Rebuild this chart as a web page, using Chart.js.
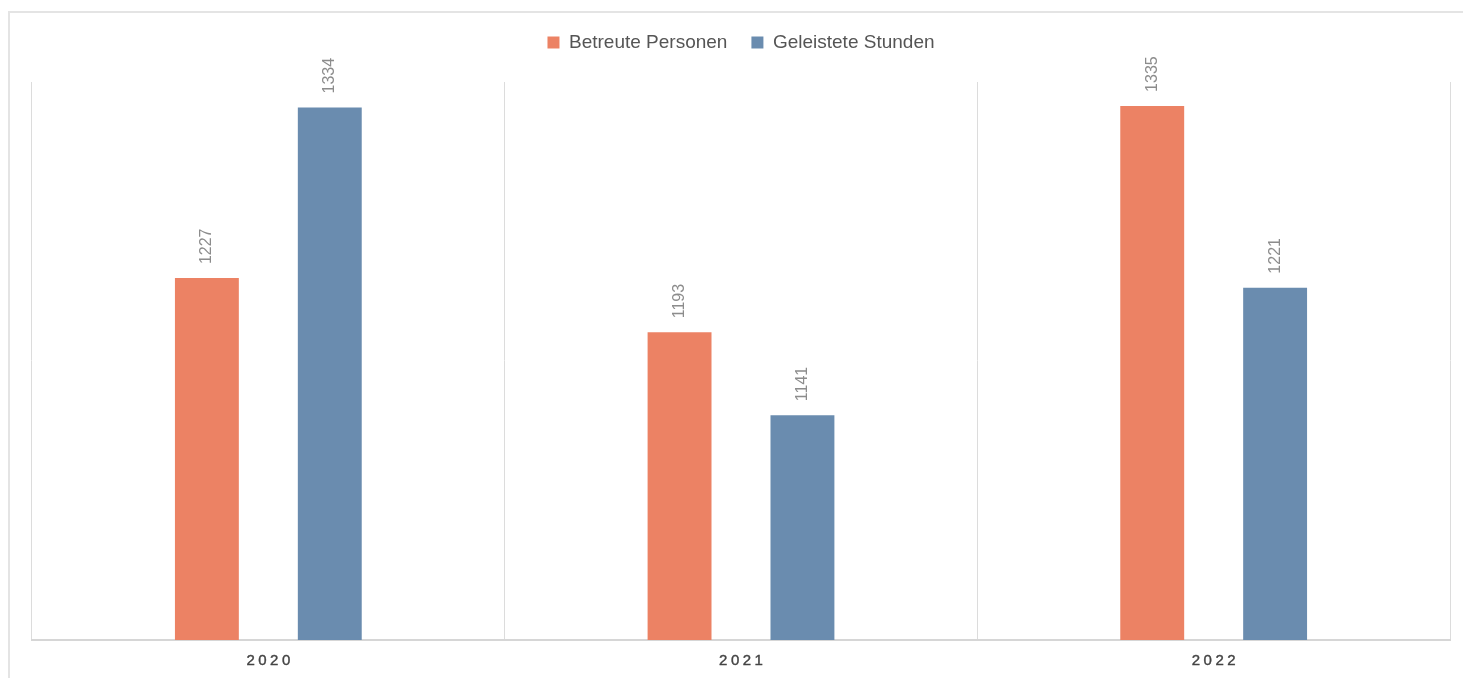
<!DOCTYPE html>
<html lang="de">
<head>
<meta charset="utf-8">
<title>Betreute Personen und geleistete Stunden</title>
<script src="https://cdn.jsdelivr.net/npm/chart.js@4/dist/chart.umd.min.js"></script>
<style>
  html, body { margin: 0; padding: 0; background: #fff; overflow: hidden; }
  .frame {
    position: absolute; left: 8px; top: 11px;
    width: 1500px; height: 720px;
    border: 2px solid #e4e4e4;
  }
  .wrap { position: absolute; left: 0; top: 0; width: 1463px; height: 678px; }
</style>
</head>
<body>
<div class="frame"></div>
<div class="wrap"><canvas id="chart"></canvas></div>
<script>
const years = ["2020", "2021", "2022"];
const personen = [1227, 1193, 1335];
const stunden = [1334, 1141, 1221];

const FONT = "'Liberation Sans', Arial, Helvetica, sans-serif";

// value labels, turned upright above each bar
const barValues = {
  id: "barValues",
  afterDatasetsDraw(chart) {
    const ctx = chart.ctx;
    ctx.save();
    ctx.font = "16px " + FONT;
    ctx.fillStyle = "#8c8c8c";
    ctx.textAlign = "left";
    ctx.textBaseline = "middle";
    chart.data.datasets.forEach((ds, i) => {
      chart.getDatasetMeta(i).data.forEach((bar, j) => {
        ctx.save();
        ctx.translate(bar.x, bar.y - 14);
        ctx.rotate(-Math.PI / 2);
        ctx.fillText(String(ds.data[j]), 0, 0);
        ctx.restore();
      });
    });
    ctx.restore();
  }
};

// year labels under the axis, with wider letter spacing
const yearLabels = {
  id: "yearLabels",
  afterDraw(chart) {
    const ctx = chart.ctx;
    const x = chart.scales.x;
    ctx.save();
    ctx.font = "15px " + FONT;
    ctx.fillStyle = "#444";
    ctx.strokeStyle = "#444";
    ctx.lineWidth = 0.4;
    ctx.textAlign = "center";
    ctx.textBaseline = "middle";
    ctx.letterSpacing = "3.5px";
    years.forEach((y, i) => {
      const px = x.getPixelForValue(i) + 1.75;
      const py = chart.chartArea.bottom + 21;
      ctx.fillText(y, px, py);
      ctx.strokeText(y, px, py);
    });
    ctx.restore();
  }
};

new Chart(document.getElementById("chart"), {
  type: "bar",
  data: {
    labels: years,
    datasets: [
      {
        label: "Betreute Personen",
        data: personen,
        backgroundColor: "#EC8264",
      },
      {
        label: "Geleistete Stunden",
        data: stunden,
        backgroundColor: "#6A8CAF",
      },
    ],
  },
  options: {
    responsive: true,
    maintainAspectRatio: false,
    animation: false,
    categoryPercentage: 0.52,
    barPercentage: 0.52,
    layout: {
      padding: { left: 32, right: 13, top: 9, bottom: 8 },
    },
    scales: {
      x: {
        grid: {
          display: true,
          offset: true,
          color: "#dcdcdc",
          lineWidth: 1,
          drawTicks: false,
        },
        border: { display: true, color: "#d6d6d6", width: 2 },
        ticks: {
          color: "rgba(0,0,0,0)",
          font: { family: FONT, size: 15 },
          padding: 6,
        },
      },
      y: {
        display: false,
        min: 1000,
        max: 1350,
      },
    },
    plugins: {
      legend: {
        position: "top",
        labels: {
          boxWidth: 12,
          boxHeight: 12,
          padding: 24,
          color: "#555",
          font: { family: FONT, size: 19 },
        },
      },
      // empty spacer that sits between the legend and the bars
      title: {
        display: true,
        text: "",
        weight: 500,
        font: { size: 1, lineHeight: 1 },
        padding: { top: 0, bottom: 19 },
      },
      tooltip: { enabled: false },
    },
  },
  plugins: [barValues, yearLabels],
});
</script>
</body>
</html>
